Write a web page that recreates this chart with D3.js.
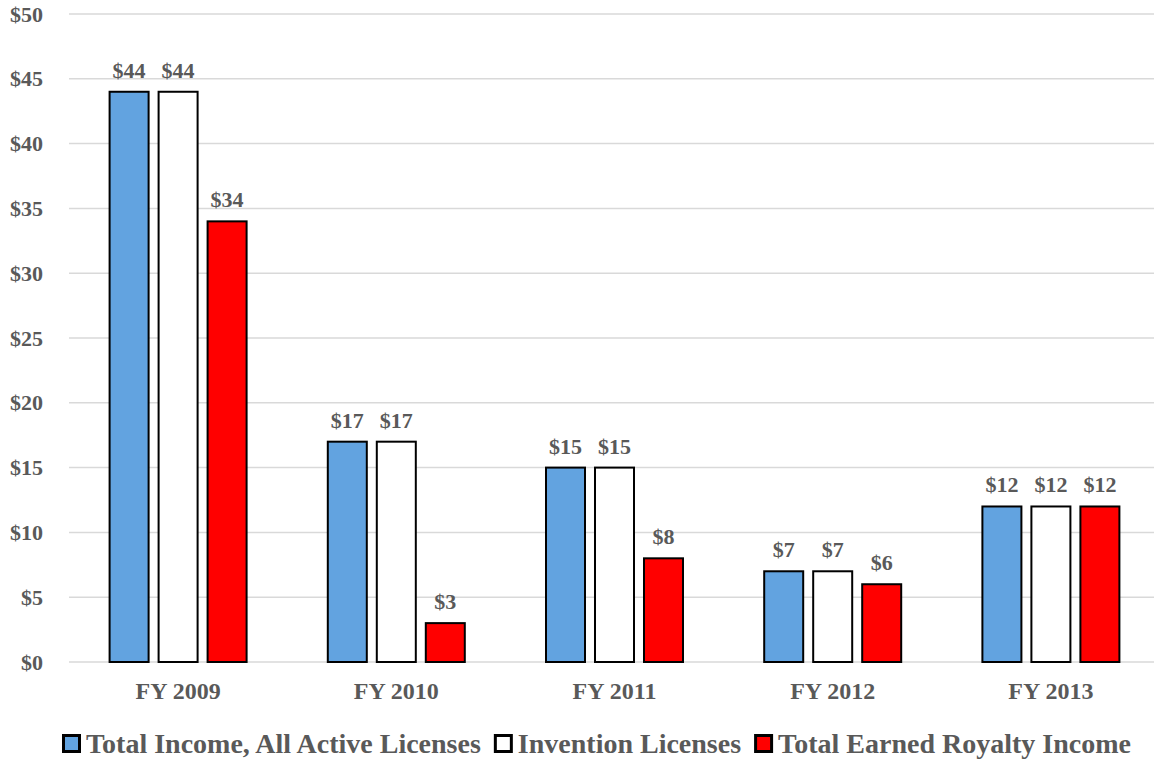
<!DOCTYPE html>
<html><head><meta charset="utf-8">
<script src="https://cdn.jsdelivr.net/npm/d3@7"></script>
<style>body{margin:0;background:#fff;}</style></head>
<body><svg id="c" width="1154" height="759"></svg>
<script>
const categories = ["FY 2009","FY 2010","FY 2011","FY 2012","FY 2013"];
const seriesNames = ["Total Income, All Active Licenses","Invention Licenses","Total Earned Royalty Income"];
const totalIncome = [44,17,15,7,12];
const inventionLicenses = [44,17,15,7,12];
const royaltyIncome = [34,3,8,6,12];
const yTicks = [0,5,10,15,20,25,30,35,40,45,50];
const colors = ["#62A3E0","#FFFFFF","#FF0000"];

(function(){
const TXT = "#595959";
const series = [totalIncome, inventionLicenses, royaltyIncome];
const svg = d3.select("#c");
const mLeft = 69, mRight = 1160, mTop = 14, mBottom = 662;

const y = d3.scaleLinear().domain([0,50]).range([mBottom, mTop]);
const x0 = d3.scaleBand().domain(categories).range([mLeft, mRight]);
const x1 = d3.scaleBand().domain(d3.range(3)).range([0,137]).paddingInner(0.204);

function styleText(sel, size){
  sel.attr("font-family", null).attr("font-size", null)
    .style("font-family", "Liberation Serif")
    .style("font-weight","bold").style("font-size", size+"px").attr("fill",TXT);
}

// gridlines
svg.append("g").selectAll("line").data(yTicks).join("line")
  .attr("x1", mLeft).attr("x2", 1154)
  .attr("y1", d=>y(d)).attr("y2", d=>y(d))
  .attr("stroke","#d9d9d9").attr("stroke-width",1.5);

// y axis labels
const yAxis = svg.append("g").attr("transform","translate(43,0)")
  .call(d3.axisLeft(y).tickValues(yTicks).tickSize(0).tickPadding(0).tickFormat(d=>"$"+d));
yAxis.attr("font-family",null).attr("font-size",null);
yAxis.select(".domain").remove();
styleText(yAxis.selectAll("text"), 22);

// x axis labels
const xAxis = svg.append("g").attr("transform",`translate(0,${mBottom})`)
  .call(d3.axisBottom(x0).tickSize(0).tickPadding(20));
xAxis.attr("font-family",null).attr("font-size",null);
xAxis.select(".domain").remove();
styleText(xAxis.selectAll("text"), 24);

// bars
const groups = svg.append("g").selectAll("g").data(categories).join("g")
  .attr("transform", c=>`translate(${x0(c)+x0.bandwidth()/2-68.5},0)`);
groups.each(function(c,ci){
  const g = d3.select(this);
  series.forEach((s,si)=>{
    g.append("rect").attr("x",x1(si)).attr("width",x1.bandwidth())
      .attr("y",y(s[ci])).attr("height",y(0)-y(s[ci]))
      .attr("fill",colors[si]).attr("stroke","#000").attr("stroke-width",2);
    const t = g.append("text").attr("x",x1(si)+x1.bandwidth()/2).attr("y",y(s[ci])-14)
      .attr("text-anchor","middle").text("$"+s[ci]);
    styleText(t, 22);
  });
});

// legend
const leg = svg.append("g").attr("transform","translate(62,753)");
let lx = 0;
seriesNames.forEach((n,i)=>{
  leg.append("rect").attr("x",lx+1.5).attr("y",-17.5).attr("width",16).attr("height",16)
    .attr("fill",colors[i]).attr("stroke","#000").attr("stroke-width",3);
  const t = leg.append("text").attr("x",lx+24).attr("y",0).text(n);
  styleText(t, 28);
  lx += 24 + t.node().getComputedTextLength() + 13;
});
})();
</script></body></html>
